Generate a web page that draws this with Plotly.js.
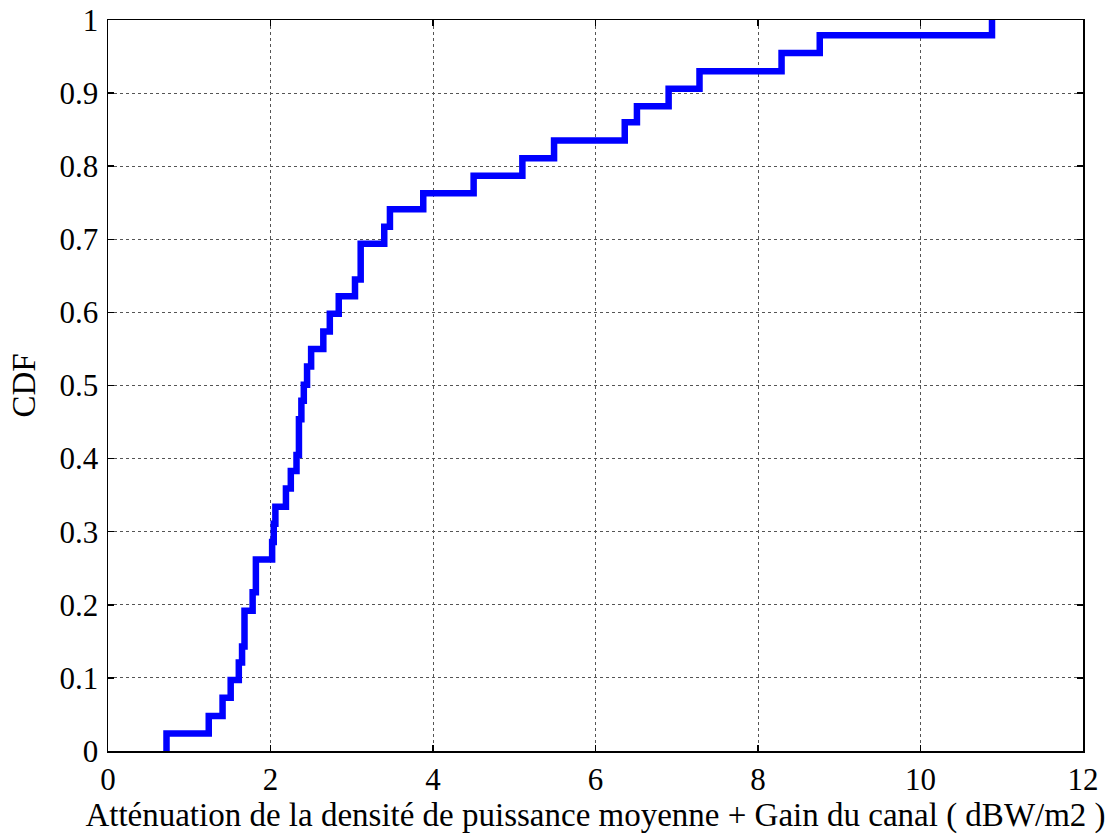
<!DOCTYPE html>
<html>
<head>
<meta charset="utf-8">
<script src="https://cdn.plot.ly/plotly-3.0.1.min.js"></script>
<style>html,body{margin:0;padding:0;background:#fff;}#chart{width:1111px;height:834px;}</style>
</head>
<body>
<div id="chart"></div>
<script>
// Step positions (x where CDF jumps) and CDF level after each jump
const stepX = [0.72, 1.24, 1.41, 1.51, 1.61, 1.65, 1.68, 1.78, 1.82, 2.02, 2.04, 2.06, 2.19, 2.25, 2.32, 2.35, 2.38, 2.41, 2.45, 2.50, 2.65, 2.73, 2.84, 3.04, 3.11, 3.40, 3.47, 3.88, 4.50, 5.10, 5.49, 6.36, 6.51, 6.90, 7.28, 8.29, 8.76, 10.88];
const cdf   = [0.024, 0.048, 0.073, 0.097, 0.121, 0.143, 0.192, 0.217, 0.262, 0.286, 0.311, 0.334, 0.359, 0.383, 0.405, 0.454, 0.479, 0.501, 0.526, 0.550, 0.574, 0.598, 0.622, 0.645, 0.694, 0.717, 0.741, 0.763, 0.787, 0.811, 0.835, 0.860, 0.882, 0.906, 0.930, 0.955, 0.979, 1.000];
const xTickVals = [0, 2, 4, 6, 8, 10, 12];
const yTickVals = [0, 0.1, 0.2, 0.3, 0.4, 0.5, 0.6, 0.7, 0.8, 0.9, 1];
const xTitle = "Atténuation de la densité de puissance moyenne + Gain du canal ( dBW/m2 )";
const yTitle = "CDF";

const xs = [stepX[0]].concat(stepX);
const ys = [0].concat(cdf);

const fam = "Liberation Serif, Times New Roman, serif";
const tickFont = {family: fam, size: 31, color: "#000"};
const titleFont = {family: fam, size: 33, color: "#000"};
const axisCommon = {
  showline: true, linecolor: "#000", linewidth: 1.5, mirror: "ticks",
  ticks: "inside", ticklen: 6, tickwidth: 1.5, tickcolor: "#000",
  showgrid: true, gridcolor: "#555", gridwidth: 1, griddash: "dot",
  zeroline: false, tickfont: tickFont
};

const trace = {
  x: xs, y: ys, type: "scatter", mode: "lines",
  line: {shape: "hv", color: "#0000FF", width: 6.5},
  hoverinfo: "skip"
};

const layout = {
  width: 1111, height: 834,
  margin: {l: 108, r: 28, t: 20, b: 83},
  paper_bgcolor: "#fff", plot_bgcolor: "#fff",
  showlegend: false,
  font: tickFont,
  xaxis: Object.assign({}, axisCommon, {
    range: [0, 12], tickvals: xTickVals, ticktext: xTickVals.map(String),
    ticklabelstandoff: 0,
    title: {text: xTitle, font: titleFont, standoff: 0}
  }),
  yaxis: Object.assign({}, axisCommon, {
    range: [0, 1], tickvals: yTickVals, ticktext: yTickVals.map(String),
    ticklabelstandoff: 2,
    title: {text: yTitle, font: titleFont, standoff: 14}
  })
};

Plotly.newPlot("chart", [trace], layout, {staticPlot: true, displayModeBar: false});
</script>
</body>
</html>
